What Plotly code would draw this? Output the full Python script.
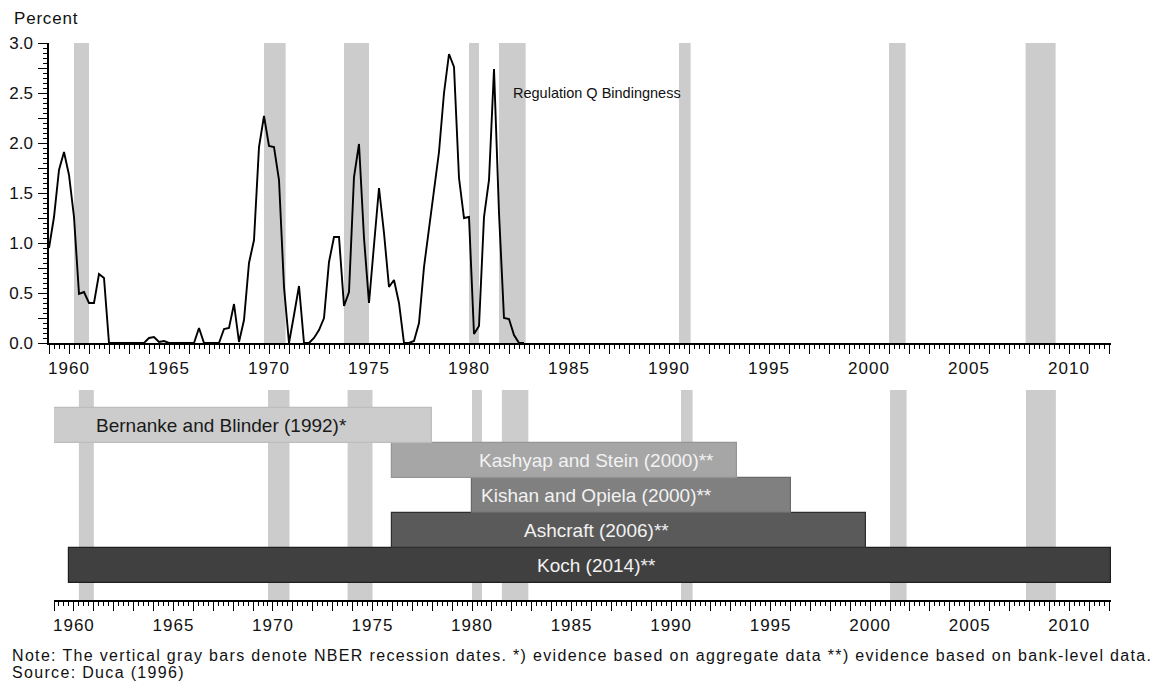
import plotly.graph_objects as go

# ---------------- data ----------------
# Regulation Q bindingness, quarterly, 1959Q1 .. 1982Q4 (percent)
start_year = 1959
regq = [
    0.95, 1.26, 1.73, 1.91,   # 1959
    1.68, 1.26, 0.49, 0.51,   # 1960
    0.40, 0.40, 0.69, 0.65,   # 1961
    0.00, 0.00, 0.00, 0.00,   # 1962
    0.00, 0.00, 0.00, 0.00,   # 1963
    0.05, 0.06, 0.01, 0.02,   # 1964
    0.00, 0.00, 0.00, 0.00,   # 1965
    0.00, 0.00, 0.15, 0.00,   # 1966
    0.00, 0.00, 0.00, 0.14,   # 1967
    0.15, 0.39, 0.01, 0.23,   # 1968
    0.80, 1.03, 1.96, 2.27,   # 1969
    1.97, 1.96, 1.63, 0.56,   # 1970
    0.00, 0.28, 0.57, 0.00,   # 1971
    0.00, 0.05, 0.13, 0.25,   # 1972
    0.81, 1.06, 1.06, 0.37,   # 1973
    0.51, 1.66, 1.99, 1.05,   # 1974
    0.40, 0.98, 1.55, 1.10,   # 1975
    0.56, 0.63, 0.40, 0.00,   # 1976
    0.00, 0.02, 0.20, 0.76,   # 1977
    1.16, 1.56, 1.91, 2.50,   # 1978
    2.89, 2.76, 1.65, 1.25,   # 1979
    1.26, 0.09, 0.17, 1.26,   # 1980
    1.63, 2.74, 1.30, 0.25,   # 1981
    0.24, 0.08, 0.00, 0.00,   # 1982
]
quarters = [start_year + 0.25 * i for i in range(len(regq))]

# NBER recessions (decimal years)
rec_start = [1960.25, 1969.75, 1973.75, 1980.0, 1981.5, 1990.5, 2001.0, 2007.83]
rec_end = [1961.0, 1970.83, 1975.0, 1980.5, 1982.83, 1991.08, 2001.83, 2009.33]

# Studies (bottom panel), listed bottom row first
studies = ["Koch (2014)**", "Ashcraft (2006)**", "Kishan and Opiela (2000)**",
           "Kashyap and Stein (2000)**", "Bernanke and Blinder (1992)*"]
study_start = [1959.75, 1976.0, 1980.0, 1976.0, 1959.0]
study_end = [2012.1, 1999.8, 1996.0, 1993.3, 1978.0]

year_ticks = list(range(1959, 2013))
year_labels = [str(y) if y % 5 == 0 else "" for y in year_ticks]
pct_ticks = [i * 0.25 for i in range(13)]
pct_labels = [f"{v:.1f}" if abs(v * 2 - round(v * 2)) < 1e-9 else "" for v in pct_ticks]

note_line1 = ("Note: The vertical gray bars denote NBER recession dates. "
              "*) evidence based on aggregate data **) evidence based on bank-level data.")
note_line2 = "Source: Duca (1996)"

# ---------------- styling ----------------
W, H = 1172, 688
OFF = 8  # page body margin in the browser


def fx(p):
    return (p - OFF) / W


def fy(p):
    return 1 - (p - OFF) / H


FONT = "Liberation Sans, Arial, Helvetica, sans-serif"
fills = ["#404040", "#5a5a5a", "#808080", "#a6a6a6", "#cccccc"]
edges = ["#1e1e1e", "#2e2e2e", "#6a6a6a", "#959595", "#bdbdbd"]
txtcol = ["#f2f2f2", "#f2f2f2", "#f2f2f2", "#f2f2f2", "#1a1a1a"]


def sp(t, ls):
    return f'<span style="letter-spacing:{ls}px">{t}</span>' if t else ""


fig = go.Figure()

fig.add_trace(go.Scatter(
    x=quarters, y=regq, mode="lines",
    line=dict(color="black", width=1.9),
    xaxis="x", yaxis="y", showlegend=False, hoverinfo="skip"))

fig.add_trace(go.Bar(
    y=list(range(len(studies))),
    x=[e - s for s, e in zip(study_start, study_end)],
    base=study_start, orientation="h", width=1.0,
    marker=dict(color=fills, line=dict(color=edges, width=1.2)),
    xaxis="x2", yaxis="y2", showlegend=False, hoverinfo="skip"))

shapes = []
for s, e in zip(rec_start, rec_end):
    shapes.append(dict(type="rect", xref="x", yref="y", x0=s, x1=e, y0=0, y1=3,
                       fillcolor="#cccccc", line=dict(width=0), layer="below"))
    shapes.append(dict(type="rect", xref="x2", yref="y2", x0=s, x1=e, y0=-1, y1=5,
                       fillcolor="#cccccc", line=dict(width=0), layer="below"))

annotations = [
    dict(text=sp("Percent", 0.8), xref="paper", yref="paper", x=fx(12), y=fy(18),
         xanchor="left", yanchor="middle", showarrow=False,
         font=dict(size=17, color="#111")),
    dict(text="Regulation Q Bindingness", xref="x", yref="y", x=1982.1, y=2.5,
         xanchor="left", yanchor="middle", showarrow=False,
         font=dict(size=14.5, color="#111")),
    dict(text=sp(note_line1, 1.33),
         xref="paper", yref="paper", x=fx(10), y=fy(655),
         xanchor="left", yanchor="middle", showarrow=False,
         font=dict(size=16, color="#111")),
    dict(text=sp(note_line2, 1.33),
         xref="paper", yref="paper", x=fx(10), y=fy(672),
         xanchor="left", yanchor="middle", showarrow=False,
         font=dict(size=16, color="#111")),
]
label_x = [1986.26, 1986.26, 1986.26, 1986.26, 1967.43]
for i, name in enumerate(studies):
    annotations.append(dict(text=name, xref="x2", yref="y2", x=label_x[i], y=i,
                            xanchor="center", yanchor="middle", showarrow=False,
                            font=dict(size=19, color=txtcol[i])))

xcommon = dict(range=[1959, 2012.1], tickmode="array", tickvals=year_ticks,
               ticktext=[sp(t, 1.0) for t in year_labels], ticks="outside",
               ticklen=9, tickwidth=1.3,
               tickcolor="black", showline=True, linecolor="black", linewidth=1.5,
               showgrid=False, zeroline=False, automargin=False,
               tickfont=dict(size=17, color="#111"),
               minor=dict(tickmode="linear", tick0=1959, dtick=0.25, ticks="outside",
                          ticklen=4, tickwidth=1, tickcolor="black", showgrid=False))

fig.update_layout(
    template="none",
    width=W, height=H,
    margin=dict(l=0, r=0, t=0, b=0, autoexpand=False),
    paper_bgcolor="white", plot_bgcolor="white",
    font=dict(family=FONT, color="#111"),
    bargap=0,
    xaxis=dict(domain=[fx(49), fx(1111)], anchor="y", **xcommon),
    yaxis=dict(domain=[fy(343), fy(43)], anchor="x", range=[0, 3],
               tickmode="array", tickvals=pct_ticks, ticktext=pct_labels,
               ticks="outside", ticklen=9, tickwidth=1.3, tickcolor="black",
               ticklabelstandoff=2, automargin=False,
               showline=True, linecolor="black", linewidth=1.5,
               showgrid=False, zeroline=False, tickfont=dict(size=17, color="#111"),
               minor=dict(tickmode="linear", tick0=0, dtick=0.05, ticks="outside",
                          ticklen=4, tickwidth=1, tickcolor="black", showgrid=False)),
    xaxis2=dict(domain=[fx(54), fx(1111)], anchor="y2", **xcommon),
    yaxis2=dict(domain=[fy(600), fy(390)], anchor="x2", range=[-1, 5],
                visible=False, showgrid=False, zeroline=False, automargin=False),
    shapes=shapes,
    annotations=annotations,
)

fig.write_html("out.html")
